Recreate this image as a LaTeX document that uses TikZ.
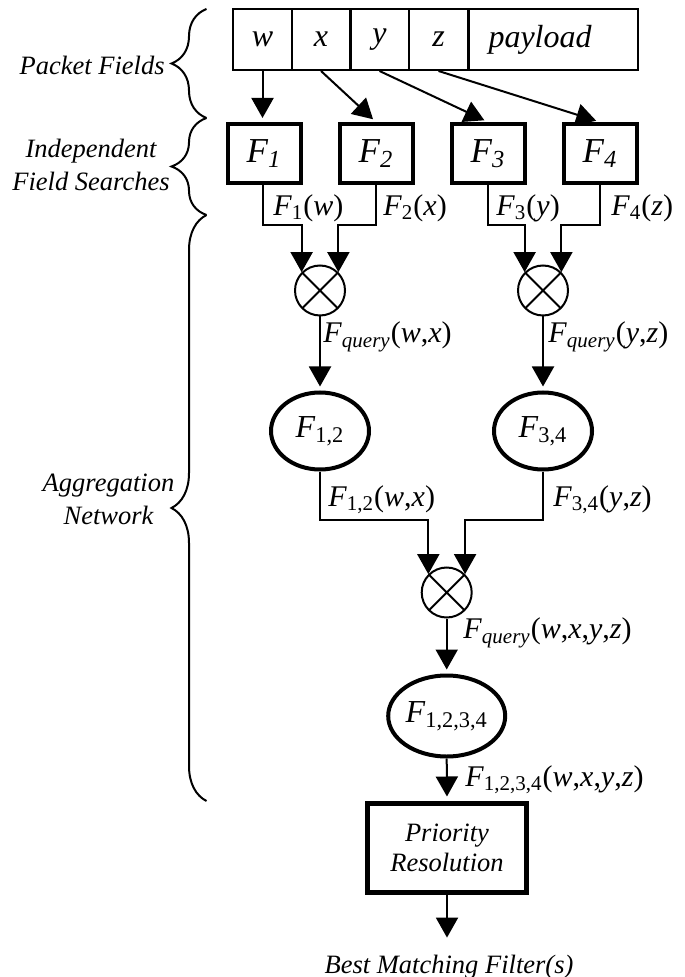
\documentclass[tikz,border=0pt]{standalone}
\usepackage{fontspec}
\setmainfont{Liberation Serif}
\usetikzlibrary{arrows.meta, calc, shapes.geometric, decorations.pathreplacing}

\newcommand{\Fs}[1]{\textit{F}\textsubscript{#1}}

\begin{document}
\begin{tikzpicture}[
    x=0.5pt, y=-0.5pt,
    >={Triangle[length=10pt, width=11pt]},
    font=\fontsize{13.25}{15}\selectfont\itshape,
    cell/.style={rectangle, draw, line width=1pt, minimum height=30.5pt, inner sep=0pt,
                 font=\fontsize{16}{18}\selectfont\itshape},
    search/.style={rectangle, draw, line width=2pt, minimum width=36.5pt, minimum height=29.5pt,
                   inner sep=0pt, font=\fontsize{17.5}{20}\selectfont\itshape},
    agg/.style={ellipse, draw, line width=2pt, inner sep=0pt, font=\fontsize{16}{18}\selectfont},
    mult/.style={circle, draw, line width=1pt, minimum size=25pt, inner sep=0pt,
                 path picture={\draw[line width=1pt]
                     (path picture bounding box.north west) -- (path picture bounding box.south east)
                     (path picture bounding box.north east) -- (path picture bounding box.south west);}},
    wire/.style={->, line width=1pt},
    thk/.style={shorten >=2pt},
    flow/.style={font=\fontsize{15}{17}\selectfont\upshape, anchor=west, inner sep=0pt},
    side/.style={font=\fontsize{13.25}{16.5}\selectfont\itshape, align=center, inner sep=0pt},
    grp/.style={decorate, decoration={brace, amplitude=17.5pt}, line width=1pt},
]
\useasboundingbox (0,0) rectangle (684,977);

% packet header
\foreach \n/\cx/\t in {fw/262.5/w, fx/321/x, fy/379.5/y, fz/438.5/z} {
    \node[cell, minimum width=29.5pt] (\n) at (\cx,39.5) {\t};
}
\node[cell, anchor=west, minimum width=84.5pt, text width=65pt, inner xsep=9.5pt, align=left]
    (fpay) at (468,39.5) {payload};

% independent field searches
\foreach \k/\cx in {1/264, 2/376, 3/488, 4/600} {
    \node[search] (F\k) at (\cx,153.5) {\Fs{\textit{\k}}};
}
\draw[wire, thk] (fw.south) -- (fw.south |- F1.north);
\draw[wire, thk] (fx.south) -- (F2.north);
\draw[wire, thk] (fy.south) -- (F3.north);
\draw[wire, thk] (fz.south) -- (F4.north);

% aggregation network
\node[mult] (c1) at (320,290.5) {};
\node[mult] (c2) at (543,290.5) {};
\node[agg, minimum width=49pt, minimum height=38.5pt] (F12) at (320,431) {\Fs{1,2}};
\node[agg, minimum width=49pt, minimum height=38.5pt] (F34) at (543,431) {\Fs{3,4}};
\node[mult] (c3) at (446.7,592.5) {};
\node[agg, minimum width=58.5pt, minimum height=40.5pt] (F1234) at (446.7,716) {\Fs{1,2,3,4}};

\coordinate (j1) at (0,225);
\coordinate (j2) at (0,520);
\draw[wire] (F1.south -| 263,0) |- (c1.135 |- j1) -- (c1.135);
\draw[wire] (F2.south) |- (c1.45 |- j1) -- (c1.45);
\draw[wire] (F3.south) |- (c2.135 |- j1) -- (c2.135);
\draw[wire] (F4.south) |- (c2.45 |- j1) -- (c2.45);
\draw[wire, thk] (c1.south) -- (F12.north);
\draw[wire, thk] (c2.south) -- (F34.north);
\draw[wire] (F12.south) |- (c3.135 |- j2) -- (c3.135);
\draw[wire] (F34.south) |- (c3.45 |- j2) -- (c3.45);
\draw[wire, thk] (c3.south) -- (F1234.north);

% priority resolution
\node[rectangle, draw, line width=2.5pt, minimum width=79.5pt, minimum height=44.5pt,
      inner sep=0pt, align=center, font=\fontsize{13.25}{15}\selectfont\itshape]
    (PR) at (447,847.5) {Priority\\Resolution};
\node[inner sep=0pt] (best) at (449,967) {Best Matching Filter(s)};
\draw[wire, thk] (F1234.south) -- (PR.north);
\draw[wire, shorten >=8.5pt] (PR.south) -- (PR.south |- best.north);

% labels on the wires
\node[flow] at (273,208) {\Fs{1}(\textit{w})};
\node[flow] at (383,208) {\Fs{2}(\textit{x})};
\node[flow] at (496,208) {\Fs{3}(\textit{y})};
\node[flow] at (611,208) {\Fs{4}(\textit{z})};
\node[flow] at (323,337) {\Fs{\textit{query}}(\textit{w},\textit{x})};
\node[flow] at (548,337) {\Fs{\textit{query}}(\textit{y},\textit{z})};
\node[flow] at (328,500) {\Fs{1,2}(\textit{w},\textit{x})};
\node[flow] at (553,500) {\Fs{3,4}(\textit{y},\textit{z})};
\node[flow] at (463,633) {\Fs{\textit{query}}(\textit{w},\textit{x},\textit{y},\textit{z})};
\node[flow] at (465,780) {\Fs{1,2,3,4}(\textit{w},\textit{x},\textit{y},\textit{z})};

% stage braces
\draw[grp] (206.5,118) -- (206.5,9);
\draw[grp] (206.5,215) -- (206.5,118);
\draw[grp] (206.5,801) -- (206.5,215);
\node[side, anchor=east] at (165,65) {Packet Fields};
\node[side] at (91,165) {Independent\\Field Searches};
\node[side] at (108.5,499) {Aggregation\\Network};

\end{tikzpicture}
\end{document}
